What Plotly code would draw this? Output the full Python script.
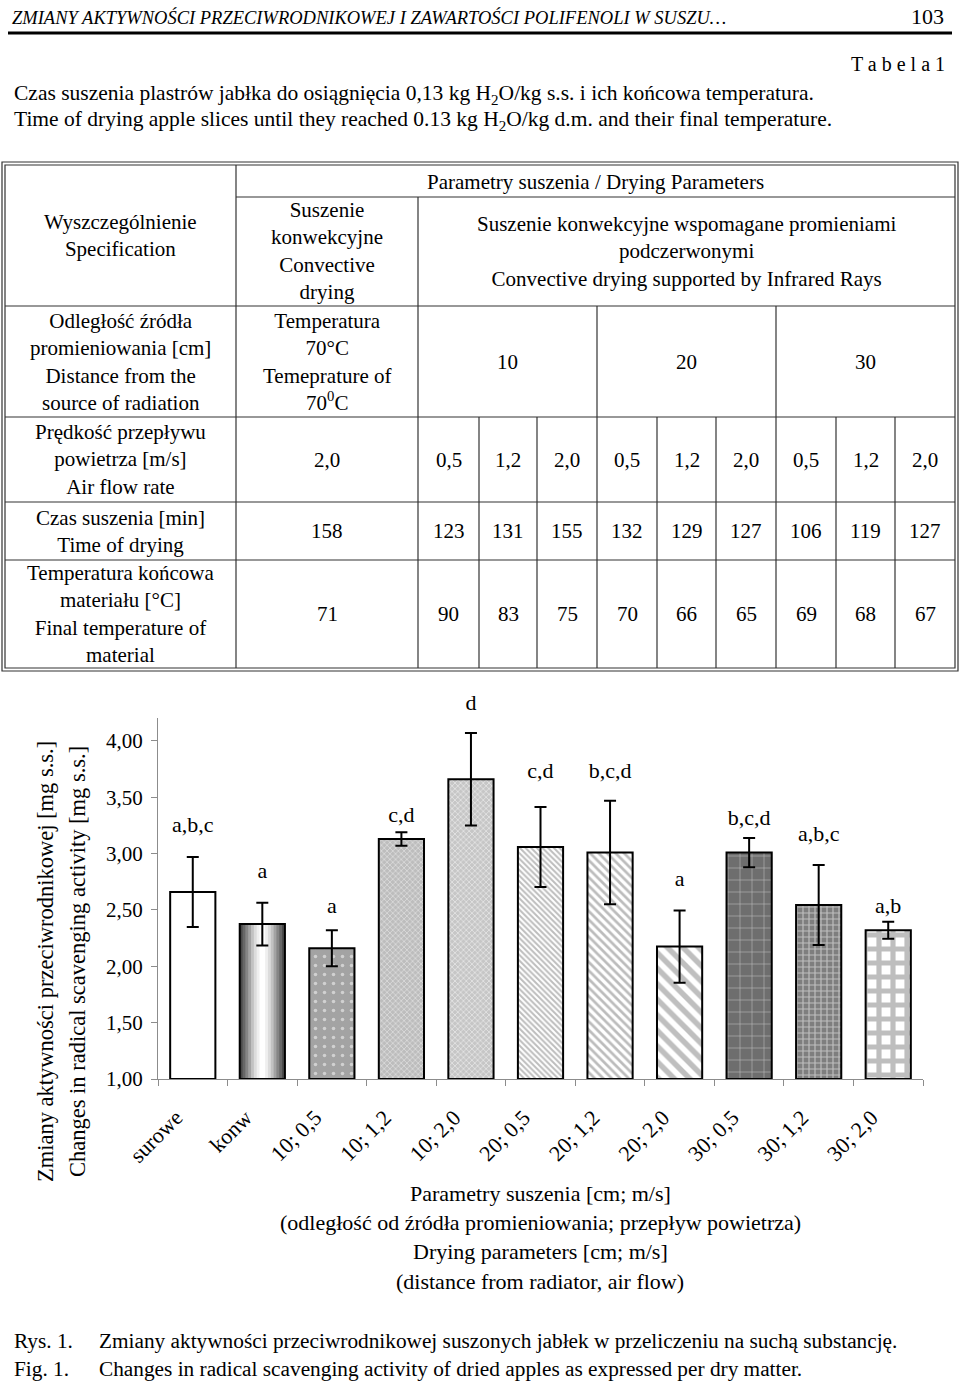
import plotly.graph_objects as go

W, H = 960, 1384
FONT = "Liberation Serif"

# ---------------- table data ----------------
distances = ["10", "20", "30"]
flow_rates = ["2,0", "0,5", "1,2", "2,0", "0,5", "1,2", "2,0", "0,5", "1,2", "2,0"]
drying_time = ["158", "123", "131", "155", "132", "129", "127", "106", "119", "127"]
final_temp = ["71", "90", "83", "75", "70", "66", "65", "69", "68", "67"]
row_heads = [
    "Wyszczególnienie<br>Specification",
    "Odległość źródła<br>promieniowania [cm]<br>Distance from the<br>source of radiation",
    "Prędkość przepływu<br>powietrza [m/s]<br>Air flow rate",
    "Czas suszenia [min]<br>Time of drying",
    "Temperatura końcowa<br>materiału [°C]<br>Final temperature of<br>material",
]

# ---------------- chart data ----------------
categories = ["surowe", "konw", "10; 0,5", "10; 1,2", "10; 2,0", "20; 0,5",
              "20; 1,2", "20; 2,0", "30; 0,5", "30; 1,2", "30; 2,0"]
activity = [2.66, 2.375, 2.16, 3.13, 3.66, 3.06, 3.01, 2.175, 3.01, 2.545, 2.32]
activity_err = [0.31, 0.19, 0.16, 0.06, 0.41, 0.355, 0.46, 0.32, 0.13, 0.355, 0.075]
letters = ["a,b,c", "a", "a", "c,d", "d", "c,d", "b,c,d", "a", "b,c,d", "a,b,c", "a,b"]
letter_y = [3.24, 2.83, 2.52, 3.33, 4.32, 3.72, 3.72, 2.76, 3.30, 3.16, 2.52]
y_ticks = [1.0, 1.5, 2.0, 2.5, 3.0, 3.5, 4.0]

# ---------------- styles ----------------
pat_shape = ["", "", ".", "x", "x", "\\", "\\", "\\", "+", "+", "+"]
pat_bg = ["#ffffff", "#ffffff", "#a3a3a3", "#bdbdbd", "#c6c6c6", "#ffffff", "#ffffff", "#ffffff",
          "#6e6e6e", "#7e7e7e", "#ffffff"]
pat_fg = ["#ffffff", "#ffffff", "#ffffff", "#ffffff", "#ffffff", "#7c7c7c", "#7a7a7a", "#808080",
          "#ffffff", "#ffffff", "#7d7d7d"]
pat_size = [8, 8, 9, 4, 4, 4, 6, 11, 12, 6, 14]
pat_sol = [0.3, 0.3, 0.12, 0.35, 0.4, 0.5, 0.45, 0.5, 0.1, 0.35, 0.6]
grad_colors = ["#4a4a4a", "#676767", "#858585", "#a3a3a3", "#c2c2c2", "#dcdcdc", "#efefef", "#ffffff"]
BAR_W = 0.65
LABEL_SHIFT = 0.24  # rotated category labels sit slightly left of the bar centre

# plot-area geometry (pixels on the page)
PLOT_L, PLOT_R, PLOT_T, PLOT_B = 158, 923, 718, 1079
Y_MIN, Y_MAX = 1.0, 4.204
LETTER_TOP = 690  # taller invisible axis for letters above the plot
px_per_unit = (PLOT_B - PLOT_T) / (Y_MAX - Y_MIN)

xpos = list(range(len(categories)))
heights = [v - Y_MIN for v in activity]

fig = go.Figure()

# patterned bars (one trace per bar so each gets its own fill)
for i in xpos:
    pattern = dict(shape=pat_shape[i], fgcolor=pat_fg[i], size=pat_size[i],
                   solidity=pat_sol[i], fillmode="overlay")
    fig.add_trace(go.Bar(
        x=[xpos[i]], y=[heights[i]], base=Y_MIN, width=BAR_W,
        marker=dict(color=pat_bg[i], line=dict(width=0), pattern=pattern),
        hoverinfo="skip", showlegend=False))

# gradient for "konw"
k = categories.index("konw")
n = len(grad_colors)
for j, c in enumerate(grad_colors):
    fig.add_trace(go.Bar(
        x=[xpos[k]], y=[heights[k]], base=Y_MIN, width=BAR_W * (1 - j / n),
        marker=dict(color=c, line=dict(width=0)),
        hoverinfo="skip", showlegend=False))

# outlines + error bars
fig.add_trace(go.Bar(
    x=xpos, y=heights, base=Y_MIN, width=BAR_W,
    marker=dict(color="rgba(0,0,0,0)", line=dict(color="black", width=2)),
    error_y=dict(type="data", array=activity_err, color="black", thickness=2, width=6),
    showlegend=False))

# significance letters (on an invisible, same-scale but taller axis)
fig.add_trace(go.Scatter(
    x=xpos, y=letter_y, mode="text", text=letters, yaxis="y2", cliponaxis=False,
    textfont=dict(family=FONT, size=22, color="black"), hoverinfo="skip", showlegend=False))

annotations = []


def px(x):
    return x / W


def py(y):
    return 1 - y / H


def txt(x, y, text, size=21, xanchor="center", yanchor="middle", angle=0, align="center"):
    annotations.append(dict(
        x=px(x), y=py(y), xref="paper", yref="paper", text=text, showarrow=False,
        xanchor=xanchor, yanchor=yanchor, textangle=angle, align=align,
        font=dict(family=FONT, size=size, color="black")))


# ---------------- page header ----------------
txt(10, 18, "<i>ZMIANY AKTYWNOŚCI PRZECIWRODNIKOWEJ I ZAWARTOŚCI POLIFENOLI W SUSZU…</i>",
    size=18.5, xanchor="left")
txt(946, 17, "103", size=22, xanchor="right")
txt(947, 64, "T a b e l a 1", size=20, xanchor="right")
txt(12, 94, "Czas suszenia plastrów jabłka do osiągnięcia 0,13 kg H<sub>2</sub>O/kg s.s. i ich końcowa temperatura.",
    size=21.5, xanchor="left")
txt(12, 121, "Time of drying apple slices until they reached 0.13 kg H<sub>2</sub>O/kg d.m. and their final temperature.",
    size=21.5, xanchor="left")

shapes = [dict(type="line", xref="paper", yref="paper", x0=px(8), x1=px(952), y0=py(33), y1=py(33),
               line=dict(color="black", width=3))]

# ---------------- table ----------------
col_x = [5, 236, 418, 479, 537, 597, 657, 716, 776, 836, 895, 955]
row_y = [165, 197, 306, 417, 502, 560, 668]
LC = "#333333"


def line(x0, y0, x1, y1, w=1.2):
    shapes.append(dict(type="line", xref="paper", yref="paper", x0=px(x0), y0=py(y0),
                       x1=px(x1), y1=py(y1), line=dict(color=LC, width=w)))


shapes.append(dict(type="rect", xref="paper", yref="paper", x0=px(2), y0=py(162),
                   x1=px(958), y1=py(671), line=dict(color=LC, width=1.2)))
shapes.append(dict(type="rect", xref="paper", yref="paper", x0=px(5), y0=py(165),
                   x1=px(955), y1=py(668), line=dict(color=LC, width=1.2)))

line(col_x[1], row_y[0], col_x[1], row_y[-1])
line(col_x[1], row_y[1], col_x[-1], row_y[1])
line(col_x[2], row_y[1], col_x[2], row_y[-1])
line(col_x[0], row_y[2], col_x[-1], row_y[2])
line(col_x[5], row_y[2], col_x[5], row_y[-1])
line(col_x[8], row_y[2], col_x[8], row_y[-1])
for r in row_y[3:6]:
    line(col_x[0], r, col_x[-1], r)
for c in [3, 4, 6, 7, 9, 10]:
    line(col_x[c], row_y[3], col_x[c], row_y[-1])


def mid(a, b):
    return (a + b) / 2


cx_head = mid(col_x[0], col_x[1])
txt(cx_head, mid(row_y[0], row_y[2]), row_heads[0])
txt(mid(col_x[1], col_x[-1]), mid(row_y[0], row_y[1]) + 1, "Parametry suszenia / Drying Parameters")
txt(mid(col_x[1], col_x[2]), mid(row_y[1], row_y[2]), "Suszenie<br>konwekcyjne<br>Convective<br>drying")
txt(mid(col_x[2], col_x[-1]), mid(row_y[1], row_y[2]),
    "Suszenie konwekcyjne wspomagane promieniami<br>podczerwonymi<br>Convective drying supported by Infrared Rays")
txt(cx_head, mid(row_y[2], row_y[3]), row_heads[1])
txt(mid(col_x[1], col_x[2]), mid(row_y[2], row_y[3]), "Temperatura<br>70°C<br>Temeprature of<br>70<sup>0</sup>C")
for g, d in enumerate(distances):
    txt(mid(col_x[2 + 3 * g], col_x[5 + 3 * g]), mid(row_y[2], row_y[3]), d)
for ri, vals in enumerate([flow_rates, drying_time, final_temp]):
    yc = mid(row_y[3 + ri], row_y[4 + ri])
    txt(cx_head, yc, row_heads[2 + ri])
    txt(mid(col_x[1], col_x[2]), yc, vals[0])
    for ci, v in enumerate(vals[1:]):
        txt(mid(col_x[2 + ci], col_x[3 + ci]), yc, v)

# ---------------- chart titles ----------------
txt(45, 962, "Zmiany aktywności przeciwrodnikowej [mg s.s.]", size=22.5, angle=-90)
txt(77, 962, "Changes in radical scavenging activity [mg s.s.]", size=22.5, angle=-90)
for yy, t in zip([1193, 1222, 1251, 1281], [
        "Parametry suszenia [cm; m/s]",
        "(odległość od źródła promieniowania; przepływ powietrza)",
        "Drying parameters [cm; m/s]",
        "(distance from radiator, air flow)"]):
    txt(540, yy, t, size=22)

# ---------------- caption ----------------
txt(12, 1341, "Rys. 1.", size=21.3, xanchor="left")
txt(12, 1369, "Fig. 1.", size=21.3, xanchor="left")
txt(97, 1341, "Zmiany aktywności przeciwrodnikowej suszonych jabłek w przeliczeniu na suchą substancję.",
    size=21.3, xanchor="left")
txt(97, 1369, "Changes in radical scavenging activity of dried apples as expressed per dry matter.",
    size=21.3, xanchor="left")

AX = "#8c8c8c"
fig.update_layout(
    template="none",
    width=W, height=H, margin=dict(l=0, r=0, t=0, b=0, pad=0, autoexpand=False),
    paper_bgcolor="white", plot_bgcolor="rgba(0,0,0,0)",
    barmode="overlay", separators=",.", showlegend=False,
    font=dict(family=FONT, size=20, color="black"),
    xaxis=dict(domain=[PLOT_L / W, PLOT_R / W], range=[-0.5, 10.5], showline=True, linecolor=AX,
               linewidth=1, tickmode="array", tickvals=[i - LABEL_SHIFT for i in xpos],
               ticktext=categories,
               tickangle=-45, ticks="", tickfont=dict(family=FONT, size=22, color="black"),
               ticklabelstandoff=16, automargin=False,
               minor=dict(tickmode="array", tickvals=[i - 0.5 for i in xpos] + [xpos[-1] + 0.5],
                          ticks="outside", ticklen=6, tickcolor=AX, showgrid=False),
               showgrid=False, zeroline=False, fixedrange=True),
    yaxis=dict(domain=[1 - PLOT_B / H, 1 - PLOT_T / H], range=[Y_MIN, Y_MAX], tickmode="array",
               tickvals=y_ticks, tickformat=".2f", showline=True, linecolor=AX, linewidth=1,
               ticks="outside", ticklen=6, tickcolor=AX, automargin=False,
               tickfont=dict(family=FONT, size=21, color="black"), ticklabelstandoff=4,
               showgrid=False, zeroline=False, fixedrange=True),
    yaxis2=dict(domain=[1 - PLOT_B / H, 1 - LETTER_TOP / H],
                range=[Y_MIN, Y_MIN + (PLOT_B - LETTER_TOP) / px_per_unit],
                anchor="x", visible=False, showgrid=False, zeroline=False,
                automargin=False, fixedrange=True),
    annotations=annotations, shapes=shapes,
)

fig.write_html("out.html", config={"displayModeBar": False},
               post_script="document.body.style.margin='0';")
